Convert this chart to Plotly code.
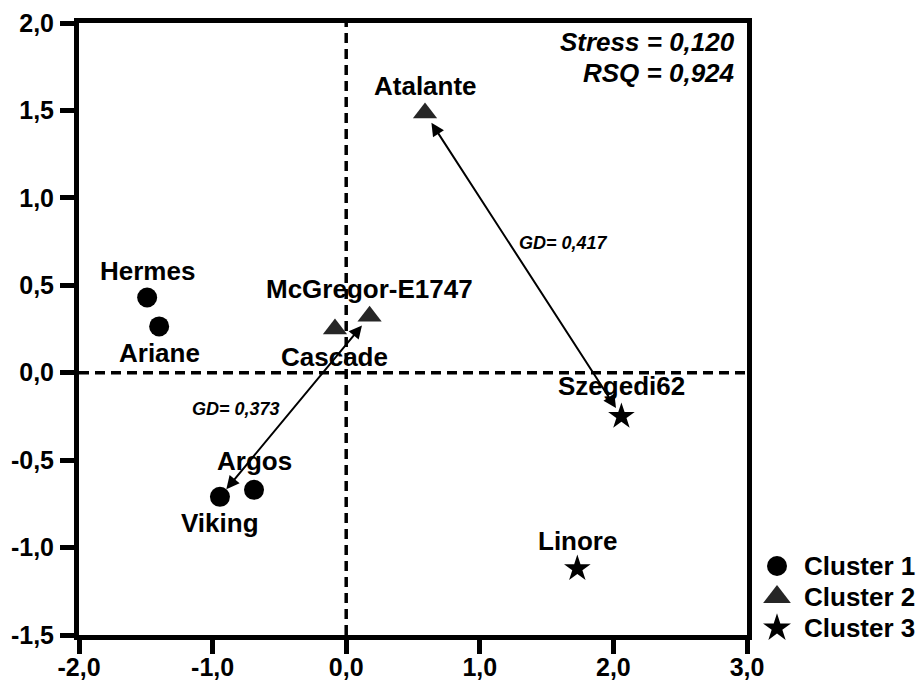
import plotly.graph_objects as go

# ---- data ----
clusters = ["Cluster 1", "Cluster 2", "Cluster 3"]
c1_names = ["Hermes", "Ariane", "Argos", "Viking"]
c1_x = [-1.49, -1.40, -0.69, -0.945]
c1_y = [0.43, 0.265, -0.67, -0.71]

c2_names = ["Atalante", "McGregor-E1747", "Cascade"]
c2_x = [0.59, 0.175, -0.084]
c2_y = [1.486, 0.323, 0.250]

c3_names = ["Szegedi62", "Linore"]
c3_x = [2.06, 1.73]
c3_y = [-0.25, -1.12]

gd_pairs = [("Atalante", "Szegedi62"), ("McGregor-E1747", "Viking")]
gd_labels = ["GD= 0,417", "GD= 0,373"]
gd_label_pos = [(1.625, 0.743), (-0.823, -0.206)]

stress_text = "Stress = 0,120"
rsq_text = "RSQ = 0,924"

x_ticks = [-2, -1, 0, 1, 2, 3]
x_tick_labels = ["-2,0", "-1,0", "0,0", "1,0", "2,0", "3,0"]
y_ticks = [-1.5, -1.0, -0.5, 0.0, 0.5, 1.0, 1.5, 2.0]
y_tick_labels = ["-1,5", "-1,0", "-0,5", "0,0", "0,5", "1,0", "1,5", "2,0"]

# ---- style / layout ----
FONT = "Liberation Sans, Arial, sans-serif"
label_shift = {"Hermes": 27, "Ariane": -27, "Argos": 29, "Viking": -26,
               "Atalante": 27, "McGregor-E1747": 27, "Cascade": -28,
               "Szegedi62": 30, "Linore": 28}
symbols = ["circle", "triangle-up", "star"]
sym_colors = ["black", "#262626", "black"]
sym_sizes = [20, 21, 20]
legend_sym_sizes = [20, 24, 21]

W, H = 919, 683
ML, MR, MT, MB = 79, 0, 23, 48
AREA_W = W - ML - MR          # width of the whole subplot area
PLOT_W = 668                  # width of main plot
PH = H - MT - MB
main_dom = PLOT_W / AREA_W
LEG_W = AREA_W - PLOT_W       # width (px) of legend strip

# legend geometry in legend-strip pixel units (origin: plot right edge / bottom)
legend_sym_dx = 30
legend_txt_dx = 55
legend_rows_dy = [69, 38, 7]

fig = go.Figure()
groups = [(c1_names, c1_x, c1_y), (c2_names, c2_x, c2_y), (c3_names, c3_x, c3_y)]
for i, (names, xs, ys) in enumerate(groups):
    fig.add_trace(go.Scatter(x=xs, y=ys, mode="markers", name=clusters[i],
                             showlegend=False,
                             marker=dict(symbol=symbols[i], size=sym_sizes[i],
                                         color=sym_colors[i], line=dict(width=0))))

pts = {}
for names, xs, ys in groups:
    for n, xv, yv in zip(names, xs, ys):
        pts[n] = (xv, yv)
        fig.add_annotation(x=xv, y=yv, text=n, showarrow=False,
                           yshift=label_shift[n],
                           font=dict(family=FONT, size=26, color="black", weight="bold"))

for (a, b), lab, (lx, ly) in zip(gd_pairs, gd_labels, gd_label_pos):
    (ax_, ay_), (bx, by) = pts[a], pts[b]
    fig.add_annotation(x=bx, y=by, ax=ax_, ay=ay_, xref="x", yref="y",
                       axref="x", ayref="y", text="", showarrow=True,
                       arrowside="end+start", arrowhead=2, startarrowhead=2,
                       arrowsize=1.3, startarrowsize=1.3, arrowwidth=2,
                       arrowcolor="black", standoff=10, startstandoff=10)
    fig.add_annotation(x=lx, y=ly, text=lab, showarrow=False,
                       font=dict(family=FONT, size=18, color="black",
                                 weight="bold", style="italic"))

for txt, yp in [(stress_text, 0.969), (rsq_text, 0.918)]:
    fig.add_annotation(x=0.985, y=yp, xref="x domain", yref="y domain", text=txt,
                       showarrow=False, xanchor="right", yanchor="middle",
                       font=dict(family=FONT, size=26, color="black",
                                 weight="bold", style="italic"))

# custom legend drawn on its own invisible axes in the right strip
for i, cl in enumerate(clusters):
    fig.add_trace(go.Scatter(x=[legend_sym_dx], y=[legend_rows_dy[i]], mode="markers",
                             showlegend=False, hoverinfo="skip", cliponaxis=False,
                             xaxis="x2", yaxis="y2",
                             marker=dict(symbol=symbols[i], size=legend_sym_sizes[i],
                                         color=sym_colors[i], line=dict(width=0))))
    fig.add_annotation(x=legend_txt_dx, y=legend_rows_dy[i], xref="x2", yref="y2",
                       text=cl, showarrow=False, xanchor="left", yanchor="middle",
                       font=dict(family=FONT, size=26, color="black", weight="bold"))

# dashed reference lines at 0
fig.add_shape(type="line", x0=0, x1=0, y0=y_ticks[0], y1=y_ticks[-1], xref="x", yref="y",
              line=dict(color="black", width=3.5, dash="10px,6px"), layer="below")
fig.add_shape(type="line", x0=x_ticks[0], x1=x_ticks[-1], y0=0, y1=0, xref="x", yref="y",
              line=dict(color="black", width=3.5, dash="10px,6px"), layer="below")

axis_common = dict(showline=True, linewidth=5, linecolor="black", mirror=True,
                   ticks="outside", ticklen=14, tickwidth=5, tickcolor="black",
                   showgrid=False, zeroline=False, automargin=False,
                   tickfont=dict(family=FONT, size=25, color="black", weight="bold"))

fig.update_layout(
    width=W, height=H,
    margin=dict(l=ML, r=MR, t=MT, b=MB),
    plot_bgcolor="white", paper_bgcolor="white",
    showlegend=False,
    xaxis=dict(range=[x_ticks[0], x_ticks[-1]], tickvals=x_ticks, ticktext=x_tick_labels,
               domain=[0, main_dom], ticklabelstandoff=-8, **axis_common),
    yaxis=dict(range=[y_ticks[0], y_ticks[-1]], tickvals=y_ticks, ticktext=y_tick_labels,
               ticklabelstandoff=1, **axis_common),
    xaxis2=dict(domain=[main_dom, 1], range=[0, LEG_W], visible=False, anchor="y2",
                fixedrange=True),
    yaxis2=dict(domain=[0, 1], range=[0, PH], visible=False, anchor="x2",
                fixedrange=True),
)

fig.write_html("out.html")
